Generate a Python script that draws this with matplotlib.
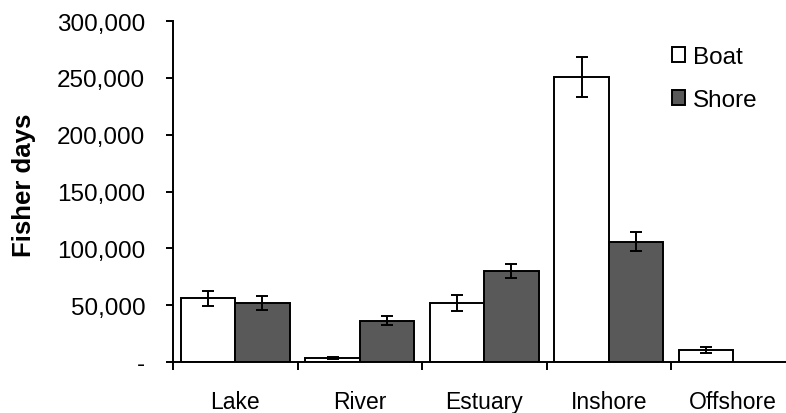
import matplotlib.pyplot as plt
import numpy as np

plt.rcParams["font.family"] = ["Liberation Sans", "DejaVu Sans"]

categories = ["Lake", "River", "Estuary", "Inshore", "Offshore"]
boat = [56000, 3500, 52000, 251000, 10500]
boat_err = [6500, 1000, 7000, 17500, 2500]
shore = [52000, 36500, 80000, 106000, 0]
shore_err = [6000, 4000, 6000, 8500, 0]
yticks = [0, 50000, 100000, 150000, 200000, 250000, 300000]
ytick_labels = ["-", "50,000", "100,000", "150,000", "200,000", "250,000", "300,000"]

SHORE_GREY = "#595959"
LW = 1.4

fig = plt.figure(figsize=(7.86, 4.14), dpi=100)
ax = fig.add_axes([173 / 786, 1 - 363 / 414, 622.5 / 786, 341 / 414])

x = np.arange(len(categories))
w = 0.4375

ax.bar(x - w / 2, boat, width=w, color="white", edgecolor="black",
       linewidth=LW, label="Boat", zorder=2)
has_shore = np.array(shore) > 0
ax.bar(x[has_shore] + w / 2, np.array(shore)[has_shore], width=w,
       color=SHORE_GREY, edgecolor="black", linewidth=LW, label="Shore",
       zorder=2)

ax.errorbar(x - w / 2, boat, yerr=boat_err, fmt="none", ecolor="black",
            elinewidth=LW, capsize=4.3, capthick=LW, zorder=3)
ax.errorbar(x[has_shore] + w / 2, np.array(shore)[has_shore],
            yerr=np.array(shore_err)[has_shore], fmt="none", ecolor="black",
            elinewidth=LW, capsize=4.3, capthick=LW, zorder=3)

ax.set_xlim(-0.5, len(categories) - 0.5)
ax.set_ylim(0, 300000)
ax.set_yticks(yticks)
ax.set_yticklabels(ytick_labels)
ax.set_xticks(x)
ax.set_xticklabels(categories)
ax.set_xticks(np.arange(len(categories)) - 0.5, minor=True)

ax.tick_params(axis="x", which="major", length=0, pad=20, labelsize=16.5)
ax.tick_params(axis="x", which="minor", length=6, width=LW, direction="out")
ax.tick_params(axis="y", length=5, width=LW, pad=15, labelsize=17.5)

for s in ["top", "right"]:
    ax.spines[s].set_visible(False)
ax.spines["left"].set_linewidth(LW)
ax.spines["bottom"].set_linewidth(LW)

ax.set_ylabel("Fisher days", fontsize=18.5, fontweight="bold")
ax.yaxis.set_label_coords((36 - 173) / 622.5, 0.52)

fig.legend(loc="upper left", bbox_to_anchor=(672 / 786, 1 - 47 / 414),
           frameon=False, fontsize=17.5, handlelength=0.55, handleheight=0.55,
           handletextpad=0.3, labelspacing=0.86, borderpad=0,
           borderaxespad=0)

plt.savefig("out.png", dpi=100)
